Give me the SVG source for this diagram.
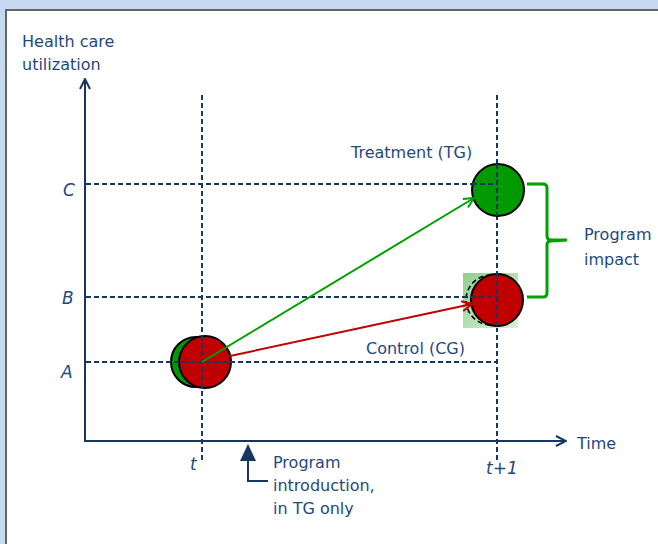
<svg xmlns="http://www.w3.org/2000/svg" width="658" height="544" viewBox="0 0 658 544">
  <style>
    .lbl { font-family: "DejaVu Sans", Verdana, sans-serif; font-size: 16px; fill: #1f497d; }
    .it { font-style: italic; font-size: 17px; }
    .axis { stroke: #17375e; stroke-width: 2; fill: none; }
    .grid { stroke: #17375e; stroke-width: 2; stroke-dasharray: 5 3; fill: none; }
    .disc { stroke: #000; stroke-width: 2; }
  </style>
  <defs>
    <marker id="openHead" viewBox="0 0 12 12" refX="11" refY="6" markerWidth="12" markerHeight="12" markerUnits="userSpaceOnUse" orient="auto">
      <path d="M1,1 L11,6 L1,11" fill="none" stroke="#17375e" stroke-width="2"/>
    </marker>
    <marker id="greenHead" viewBox="0 0 12 12" refX="11" refY="6" markerWidth="12" markerHeight="12" markerUnits="userSpaceOnUse" orient="auto">
      <path d="M1,1 L11,6 L1,11" fill="none" stroke="#00a000" stroke-width="2"/>
    </marker>
    <marker id="redHead" viewBox="0 0 12 12" refX="11" refY="6" markerWidth="12" markerHeight="12" markerUnits="userSpaceOnUse" orient="auto">
      <path d="M1,1 L11,6 L1,11" fill="none" stroke="#c00000" stroke-width="2"/>
    </marker>
    <linearGradient id="glow" x1="0" y1="0" x2="1" y2="1">
      <stop offset="0" stop-color="#8fcf8f"/>
      <stop offset="1" stop-color="#d8f0d8"/>
    </linearGradient>
  </defs>

  <!-- page backdrop and panel -->
  <rect x="0" y="0" width="658" height="544" fill="#c6d9f1"/>
  <rect x="6" y="10" width="660" height="540" fill="#ffffff" stroke="#666666" stroke-width="2"/>

  <!-- axes -->
  <g id="axes">
    <line class="axis" x1="85" y1="441" x2="85" y2="79" marker-end="url(#openHead)"/>
    <line class="axis" x1="84" y1="441" x2="566" y2="441" marker-end="url(#openHead)"/>
    <text class="lbl" x="22" y="47">Health care</text>
    <text class="lbl" x="22" y="70">utilization</text>
    <text class="lbl" x="577" y="449">Time</text>
  </g>

  <!-- reference grid -->
  <g id="grid">
    <line class="grid" x1="202" y1="95" x2="202" y2="460"/>
    <line class="grid" x1="497" y1="95" x2="497" y2="460"/>
    <line class="grid" x1="86" y1="184" x2="497" y2="184"/>
    <line class="grid" x1="86" y1="297" x2="497" y2="297"/>
    <line class="grid" x1="86" y1="362" x2="497" y2="362"/>
    <text class="lbl it" x="63" y="196">C</text>
    <text class="lbl it" x="62" y="304">B</text>
    <text class="lbl it" x="61" y="378">A</text>
    <text class="lbl it" x="190" y="470">t</text>
    <text class="lbl it" x="486" y="474">t+1</text>
  </g>

  <!-- starting groups at time t -->
  <g id="start">
    <circle class="disc" cx="196" cy="362" r="25" fill="#009900"/>
    <circle class="disc" cx="205" cy="362" r="26" fill="#c00000"/>
    <line x1="202" y1="95" x2="202" y2="460" class="grid"/>
    <line x1="86" y1="362" x2="497" y2="362" class="grid"/>
  </g>

  <!-- control group at t+1 -->
  <g id="control">
    <rect x="463" y="273" width="55" height="55" fill="url(#glow)"/>
    <circle cx="491" cy="300" r="25" fill="none" stroke="#000" stroke-width="1.6" stroke-dasharray="5 3"/>
    <circle class="disc" cx="497" cy="300" r="26" fill="#c00000"/>
    <line class="grid" x1="497" y1="273" x2="497" y2="328"/>
    <line class="grid" x1="463" y1="297" x2="497" y2="297"/>
    <text class="lbl" x="366" y="354">Control (CG)</text>
  </g>

  <!-- treatment group at t+1 -->
  <g id="treatment">
    <circle class="disc" cx="498" cy="190" r="26" fill="#009900"/>
    <line class="grid" x1="497" y1="164" x2="497" y2="216"/>
    <line class="grid" x1="472" y1="184" x2="497" y2="184"/>
    <text class="lbl" x="351" y="158">Treatment (TG)</text>
  </g>

  <!-- trajectories -->
  <g id="connectors">
    <line x1="202" y1="362" x2="474" y2="198" stroke="#00a000" stroke-width="2" marker-end="url(#greenHead)"/>
    <line x1="230" y1="356" x2="472" y2="304" stroke="#c00000" stroke-width="2" marker-end="url(#redHead)"/>
  </g>

  <!-- program impact brace -->
  <g id="impact">
    <path d="M527,184 L543,184 Q547,184 547,188 L547,236 Q547,240 551,240 L567,240 L551,241 Q547,241 547,245 L547,293 Q547,297 543,297 L527,297" fill="none" stroke="#00a000" stroke-width="3"/>
    <text class="lbl" x="584" y="240">Program</text>
    <text class="lbl" x="584" y="265">impact</text>
  </g>

  <!-- program introduction marker -->
  <g id="introduction">
    <path d="M248,444 L240,461 L256,461 Z" fill="#17375e"/>
    <path d="M248,460 L248,481 L268,481" fill="none" stroke="#17375e" stroke-width="2"/>
    <text class="lbl" x="273" y="468">Program</text>
    <text class="lbl" x="273" y="491">introduction,</text>
    <text class="lbl" x="273" y="514">in TG only</text>
  </g>
</svg>
